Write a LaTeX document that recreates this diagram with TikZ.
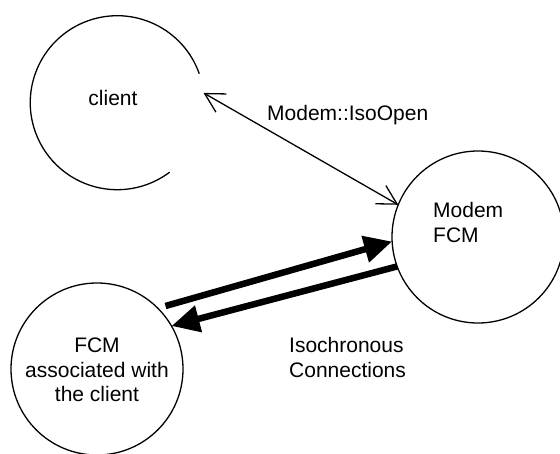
\documentclass[tikz,border=0pt]{standalone}
\usepackage{fontspec}
\setmainfont{Liberation Sans}
\usetikzlibrary{arrows.meta}
\begin{document}
\begin{tikzpicture}[x=1pt,y=1pt,
  circ/.style={circle,inner sep=0pt,outer sep=0pt,minimum size=#1},
  lbl/.style={font=\fontsize{21}{24.5}\selectfont,inner sep=0pt},
  thin/.style={line width=1.3pt},
  openarr/.style={thin,{Straight Barb[length=19pt,width=21pt]}-{Straight Barb[length=19pt,width=21pt]}},
  fatarr/.style={line width=6.5pt,-{Triangle[length=28pt,width=26pt]}}]
\useasboundingbox (0,0) rectangle (560,-453);
% client (open circle)
\node[circ=174pt] (client) at (117,-102) {};
\draw[thin] (client.19.5) arc[start angle=19.5,end angle=307,radius=87pt];
\node[lbl] (clienttxt) at (113,-98) {client};
% Modem FCM
\node[circ=172pt,draw,thin] (modem) at (478,-237) {};
\node[lbl,anchor=west,align=left] (modemtxt) at (433,-222.5) {Modem\\FCM};
% FCM associated with the client
\node[circ=172pt,draw,thin] (fcm) at (97,-369) {};
\node[lbl,align=center] (fcmtxt) at (97,-370) {FCM\\associated with\\the client};
% connectors
\draw[openarr] (client.6) -- (modem.158);
\node[lbl,anchor=west] (iso) at (267,-115) {Modem::IsoOpen};
\draw[fatarr,shorten <=8pt] (fcm.45) -- (modem.183);
\draw[fatarr] (modem.200) -- (fcm.30);
\node[lbl,anchor=west,align=left] (conn) at (289,-357.5) {Isochronous\\Connections};
\end{tikzpicture}
\end{document}
